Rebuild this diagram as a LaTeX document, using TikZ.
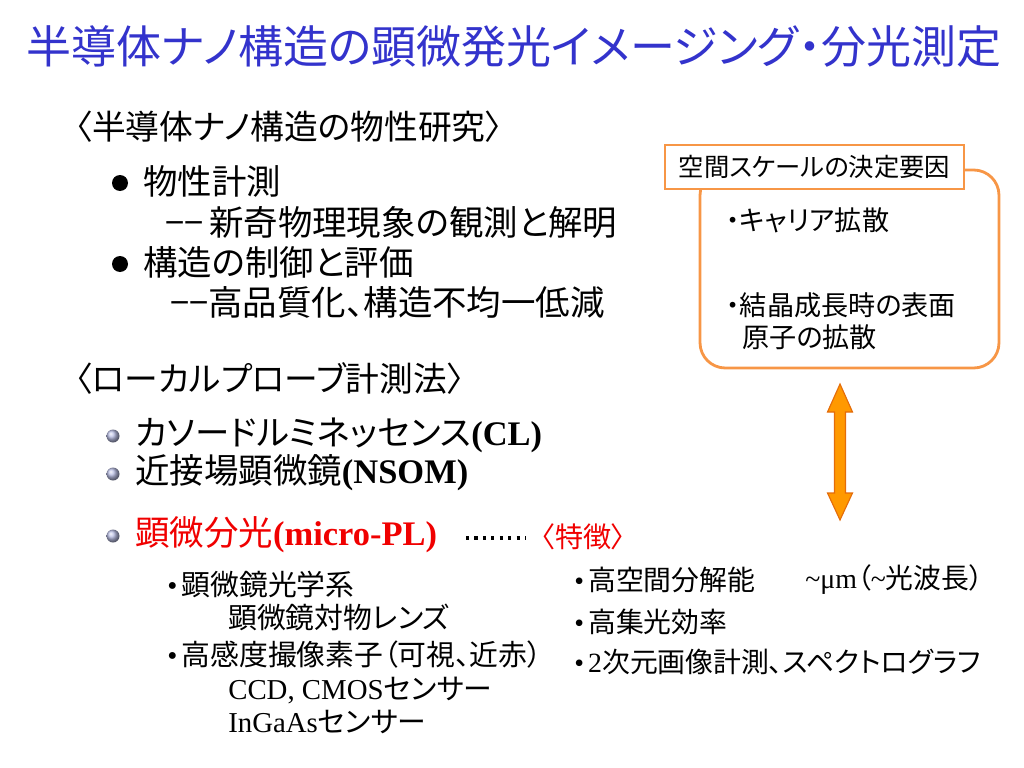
\documentclass[tikz,border=0pt]{standalone}
\usepackage{fontspec}
\setmainfont{Noto Sans CJK JP}[RawFeature={+palt}]
\newfontfamily\tm{Liberation Serif}
\usetikzlibrary{positioning}

\definecolor{titleblue}{RGB}{51,51,204}
\definecolor{boxorange}{RGB}{247,150,70}
\definecolor{arrowfill}{RGB}{255,153,0}
\definecolor{arrowline}{RGB}{228,108,10}
\definecolor{ballblue}{RGB}{185,190,228}
\definecolor{plred}{RGB}{240,0,0}

\newcommand{\dotb}{{\tm •}\hspace{3pt}}

\tikzset{
  txt/.style={anchor=west, inner sep=0pt},
  head/.style={txt, font=\fontsize{24}{28}\selectfont},
  body/.style={txt, font=\fontsize{24.5}{29}\selectfont},
  small/.style={txt, font=\fontsize{20.5}{24}\selectfont},
  smallr/.style={txt, font=\fontsize{19.8}{24}\selectfont},
  boxtxt/.style={txt, font=\fontsize{19.3}{22}\selectfont},
  ball/.style={shading=ball, ball color=ballblue},
  boxline/.style={draw=boxorange, line width=2pt},
  dotline/.style={line width=2.2pt, dash pattern=on 2.2pt off 3.8pt}
}

\begin{document}
\begin{tikzpicture}[x=0.025cm, y=-0.025cm]
\useasboundingbox (0,0) rectangle (1024,768);

\node[inner sep=0pt, text=titleblue, font=\fontsize{32}{36}\selectfont] (title) at (514,46)
  {半導体ナノ構造の顕微発光イメージング・分光測定};

% research
\node[head] (res) at (75,127) {〈半導体ナノ構造の物性研究〉};
\fill (120,183) circle (8);
\node[body] (res1) at (143,181) {物性計測};
\node[body] (res1b) at (165,222) {−−\hspace{4pt}新奇物理現象の観測と解明};
\fill (120,264) circle (8);
\node[body] (res2) at (143,262) {構造の制御と評価};
\node[body] (res2b) at (170,302) {−−高品質化、構造不均一低減};

% probes
\node[head] (prb) at (75,378) {〈ローカルプローブ計測法〉};
\shade[ball] (113,436) circle (6.5);
\node[body] (cl) at (135,435) {カソードルミネッセンス{\tm\bfseries (CL)}};
\shade[ball] (113,474) circle (6.5);
\node[body] (nsom) at (135,473) {近接場顕微鏡{\tm\bfseries (NSOM)}};
\shade[ball] (113,536) circle (6.5);
\node[body, text=plred] (mpl) at (135,535) {顕微分光{\tm\bfseries (micro-PL)}};
\node[txt, text=plred, font=\fontsize{20}{24}\selectfont] (feat) at (541,537) {〈特徴〉};
\coordinate (d1) at (466,538);
\coordinate (d2) at (526,538);
\draw[dotline] (d1) -- (d2);

% micro-PL setup
\node[small] (ls1) at (167,585) {\dotb 顕微鏡光学系};
\node[small] (ls1b) at (228,617) {顕微鏡対物レンズ};
\node[small] (ls2) at (167,655) {\dotb 高感度撮像素子（可視、近赤）};
\node[small] (ls2b) at (228,690) {{\tm CCD, CMOS}センサー};
\node[small] (ls2c) at (228,722) {{\tm InGaAs}センサー};

\node[smallr] (rs1) at (574,580) {\dotb 高空間分解能};
\node[smallr] (rs1b) at (805,580) {{\tm \textasciitilde μm}（{\tm\textasciitilde}光波長）};
\node[smallr] (rs2) at (574,622) {\dotb 高集光効率};
\node[smallr] (rs3) at (574,662) {\dotb{\tm 2}次元画像計測、スペクトログラフ};

% scale box
\draw[boxline, rounded corners=18pt] (700,170) rectangle (999,368);
\node[boxline, fill=white, minimum width=7.475cm, minimum height=1.1cm, inner sep=0pt,
  font=\fontsize{18}{21}\selectfont] (lbl) at (814.5,167) {空間スケールの決定要因};
\node[boxtxt] (sc1) at (726,220) {・キャリア拡散};
\node[boxtxt] (sc2) at (726,305) {・結晶成長時の表面};
\node[boxtxt] (sc2b) at (742,337) {原子の拡散};

\filldraw[fill=arrowfill, draw=arrowline, line width=0.8pt]
  (840,384) -- (852.5,412) -- (845.5,412) -- (845.5,493) -- (852.5,493) -- (840,520)
  -- (827.5,493) -- (834.5,493) -- (834.5,412) -- (827.5,412) -- cycle;
\end{tikzpicture}
\end{document}
